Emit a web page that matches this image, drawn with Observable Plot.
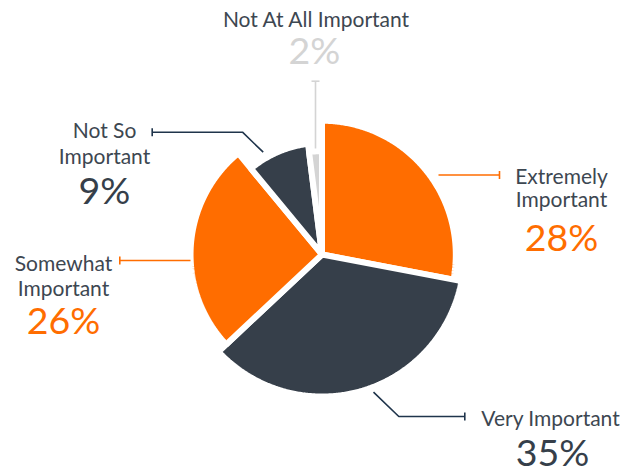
<!DOCTYPE html>
<html>
<head>
<meta charset="utf-8">
<script src="https://cdn.jsdelivr.net/npm/d3@7"></script>
<script src="https://cdn.jsdelivr.net/npm/@observablehq/plot@0.6"></script>
<style>
  html, body { margin: 0; padding: 0; background: #fff; }
  #chart { width: 625px; height: 472px; }
</style>
</head>
<body>
<div id="chart"></div>
<script>
// ---- data ----
const categories = ["Extremely Important", "Very Important", "Somewhat Important", "Not So Important", "Not At All Important"];
const values = [28, 35, 26, 9, 2];
const labelLines = [["Extremely", "Important"], ["Very Important"], ["Somewhat", "Important"], ["Not So", "Important"], ["Not At All Important"]];
const sliceColors = ["#ff6d00", "#363f4a", "#ff6d00", "#363f4a", "#d4d4d4"];
const lineColors = ["#ff6d00", "#1f344b", "#ff6d00", "#1f344b", "#d4d4d4"];
const pctColors = ["#ff6d00", "#363f4a", "#ff6d00", "#363f4a", "#d4d4d4"];

// ---- layout (annotation placement) ----
const W = 625, H = 472;
const center = {x: 321.5, y: 254};
const gap = 6;
const radius = d3.scaleLinear().domain([0, 35]).range([98 + gap / 2, 139 + gap / 2]);
const labelLayout = [
  {x: 561, lines: [183.3, 206.7], pct: 250, leader: [[438, 174.5], [499, 174.5]]},
  {x: 550, lines: [425], pct: 465, pctX: 552, leader: [[373, 391.7], [398.3, 416], [464.3, 416]]},
  {x: 63, lines: [270, 295], pct: 333, leader: [[190, 260], [119.3, 260]]},
  {x: 104, lines: [137.3, 163.3], pct: 203.3, leader: [[262.7, 151.7], [242, 131.7], [151.7, 131.7]]},
  {x: 315.5, lines: [26], pct: 63.3, pctX: 314, leader: [[315, 148], [315, 80.7]]}
];

// ---- slices as polygons ----
const arcs = d3.pie().sort(null).value(d => d)(values);
const slicePts = [];
arcs.forEach((a, i) => {
  const R = radius(values[i]);
  const cat = categories[i];
  slicePts.push({cat, x: center.x, y: center.y});
  const n = Math.max(8, Math.ceil((a.endAngle - a.startAngle) / (Math.PI / 360)));
  for (let k = 0; k <= n; k++) {
    const t = a.startAngle + (a.endAngle - a.startAngle) * k / n;
    slicePts.push({cat, x: center.x + R * Math.sin(t), y: center.y - R * Math.cos(t)});
  }
  slicePts.push({cat, x: center.x, y: center.y});
});

// ---- leaders ----
const leaderPts = [];
const tickSegs = [];
labelLayout.forEach((L, i) => {
  L.leader.forEach(([x, y]) => leaderPts.push({cat: categories[i], x, y}));
  const [px, py] = L.leader[L.leader.length - 2];
  const [ex, ey] = L.leader[L.leader.length - 1];
  const len = Math.hypot(ex - px, ey - py);
  const ux = (ex - px) / len, uy = (ey - py) / len;
  const h = 4;
  tickSegs.push({cat: categories[i], x1: ex - uy * h, y1: ey + ux * h, x2: ex + uy * h, y2: ey - ux * h});
});

// ---- texts ----
const nameTexts = [];
const pctTexts = [];
labelLayout.forEach((L, i) => {
  labelLines[i].forEach((t, j) => nameTexts.push({text: t, x: L.x, y: L.lines[j]}));
  pctTexts.push({text: values[i] + "%", x: L.pctX ?? L.x, y: L.pct, cat: categories[i]});
});

const lineColorOf = Object.fromEntries(categories.map((c, i) => [c, lineColors[i]]));
const pctColorOf = Object.fromEntries(categories.map((c, i) => [c, pctColors[i]]));

const chart = Plot.plot({
  width: W,
  height: H,
  margin: 0,
  style: {background: "#fff", fontFamily: "Lato, sans-serif"},
  x: {domain: [0, W], range: [0, W], axis: null},
  y: {domain: [0, H], range: [0, H], axis: null},
  color: {domain: categories, range: sliceColors},
  marks: [
    Plot.line(slicePts, {x: "x", y: "y", z: "cat", fill: "cat", stroke: "#fff", strokeWidth: gap, strokeLinejoin: "miter", strokeMiterlimit: 1}),
    Plot.line(leaderPts, {x: "x", y: "y", z: "cat", stroke: d => lineColorOf[d.cat], strokeWidth: 1.6, strokeLinecap: "butt", strokeLinejoin: "miter"}),
    Plot.link(tickSegs, {x1: "x1", y1: "y1", x2: "x2", y2: "y2", stroke: d => lineColorOf[d.cat], strokeWidth: 1.6}),
    Plot.text(nameTexts, {x: "x", y: "y", text: "text", fill: "#3d4751", fontSize: 21, fontFamily: "Lato", lineAnchor: "bottom", textAnchor: "middle"}),
    Plot.text(pctTexts, {x: "x", y: "y", text: "text", fill: d => pctColorOf[d.cat], fontSize: 37.5, fontFamily: "Lato", fontWeight: 400, lineAnchor: "bottom", textAnchor: "middle"})
  ]
});
document.getElementById("chart").appendChild(chart);
</script>
</body>
</html>
